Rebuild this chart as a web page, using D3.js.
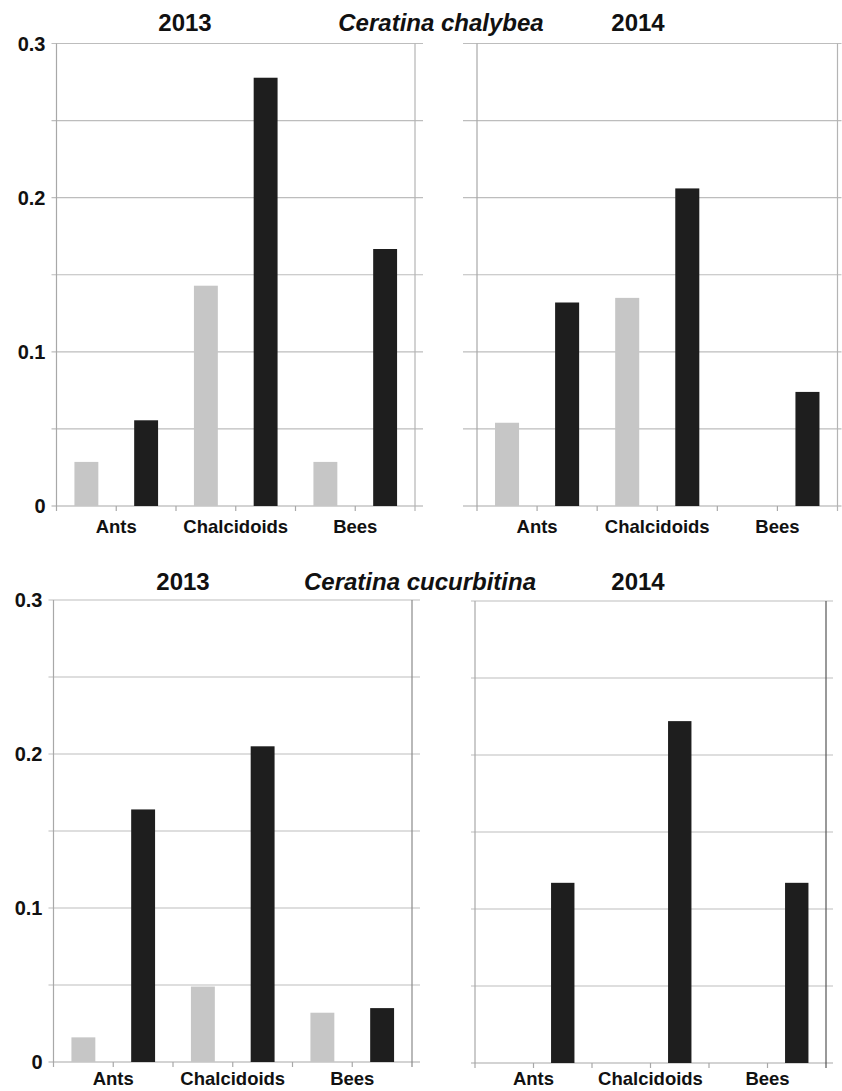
<!DOCTYPE html>
<html>
<head>
<meta charset="utf-8">
<script src="https://cdn.jsdelivr.net/npm/d3@7/dist/d3.min.js"></script>
<style>
  html, body { margin: 0; padding: 0; background: #fff; }
  svg { display: block; font-family: "Liberation Sans", Arial, sans-serif; }
</style>
</head>
<body>
<svg id="chart" width="842" height="1091"></svg>
<script>
// Enemy groups along the x axis
const groups = ["Ants", "Chalcidoids", "Bees"];

// Proportions per group: light bar, then dark bar
const chalybea2013Light = [0.0286, 0.1429, 0.0286];
const chalybea2013Dark  = [0.0556, 0.2778, 0.1667];
const chalybea2014Light = [0.054, 0.135, 0];
const chalybea2014Dark  = [0.132, 0.206, 0.074];
const cucurbitina2013Light = [0.016, 0.049, 0.032];
const cucurbitina2013Dark  = [0.164, 0.205, 0.035];
const cucurbitina2014Light = [0, 0, 0];
const cucurbitina2014Dark  = [0.117, 0.222, 0.117];

// Axis settings
const yMax = 0.3;
const yTickLabels = [0, 0.1, 0.2, 0.3];
const gridSteps = [0, 0.05, 0.1, 0.15, 0.2, 0.25, 0.3];

const LIGHT = "#c6c6c6";
const DARK = "#1e1e1e";

const svg = d3.select("#chart");

const panels = [
  { x0: 56.5, x1: 415, y0: 506, y1: 43.5, light: chalybea2013Light, dark: chalybea2013Dark,
    labels: true, tickLeft: 5, gridRight: 8, rightColor: "#b4b4b4", labelDrop: 27 },
  { x0: 477, x1: 837.5, y0: 506, y1: 43.5, light: chalybea2014Light, dark: chalybea2014Dark,
    labels: false, tickLeft: 14, gridRight: 4, rightColor: "#b4b4b4", labelDrop: 27 },
  { x0: 53.5, x1: 412, y0: 1062, y1: 600, light: cucurbitina2013Light, dark: cucurbitina2013Dark,
    labels: true, tickLeft: 5, gridRight: 8, rightColor: "#8a8a8a", labelDrop: 23 },
  { x0: 475, x1: 826, y0: 1063, y1: 601, light: cucurbitina2014Light, dark: cucurbitina2014Dark,
    labels: false, tickLeft: 4, gridRight: 7, rightColor: "#555", labelDrop: 22 }
];

panels.forEach(p => {
  const g = svg.append("g");

  // six slots: light/dark bar for each group
  const slots = [];
  groups.forEach(name => { slots.push(name + "|light"); slots.push(name + "|dark"); });

  const x = d3.scaleBand().domain(slots).range([p.x0, p.x1])
    .paddingInner(0.6).paddingOuter(0.3);
  const y = d3.scaleLinear().domain([0, yMax]).range([p.y0, p.y1]);

  // horizontal gridlines every 0.05
  g.selectAll("line.grid").data(gridSteps).enter().append("line")
    .attr("x1", p.x0 - p.tickLeft).attr("x2", p.x1 + p.gridRight)
    .attr("y1", d => y(d)).attr("y2", d => y(d))
    .attr("stroke", d => d === 0 ? "#a8a8a8" : "#bdbdbd")
    .attr("stroke-width", 1.2);

  // left axis line and right frame line
  g.append("line").attr("x1", p.x0).attr("x2", p.x0)
    .attr("y1", y(yMax)).attr("y2", y(0) + 5)
    .attr("stroke", "#a8a8a8").attr("stroke-width", 1.2);
  g.append("line").attr("x1", p.x1).attr("x2", p.x1)
    .attr("y1", y(yMax)).attr("y2", y(0) + 5)
    .attr("stroke", p.rightColor).attr("stroke-width", 1.2);

  // category ticks between slots
  const step = x.step();
  const tickPos = d3.range(1, slots.length).map(i => p.x0 + i * step);
  g.selectAll("line.xt").data(tickPos).enter().append("line")
    .attr("x1", d => d).attr("x2", d => d)
    .attr("y1", y(0)).attr("y2", y(0) + 5)
    .attr("stroke", "#a8a8a8").attr("stroke-width", 1.2);

  // bars
  const barData = [];
  groups.forEach((name, i) => {
    barData.push({ key: name + "|light", v: p.light[i], c: LIGHT });
    barData.push({ key: name + "|dark", v: p.dark[i], c: DARK });
  });
  g.selectAll("rect.bar").data(barData.filter(d => d.v > 0)).enter().append("rect")
    .attr("x", d => x(d.key))
    .attr("width", x.bandwidth())
    .attr("y", d => y(d.v))
    .attr("height", d => y(0) - y(d.v))
    .attr("fill", d => d.c);

  // group labels centred under each pair
  g.selectAll("text.cat").data(groups).enter().append("text")
    .attr("x", d => (x(d + "|light") + x(d + "|dark") + x.bandwidth()) / 2)
    .attr("y", y(0) + p.labelDrop)
    .attr("text-anchor", "middle")
    .attr("font-size", 18.5).attr("font-weight", "bold")
    .attr("fill", "#111")
    .text(d => d);

  // y tick labels
  if (p.labels) {
    g.selectAll("text.yl").data(yTickLabels).enter().append("text")
      .attr("x", p.x0 - 11)
      .attr("y", d => y(d))
      .attr("dy", "0.36em")
      .attr("text-anchor", "end")
      .attr("font-size", 20).attr("font-weight", "bold")
      .attr("fill", "#111")
      .text(d => d === 0 ? "0" : d3.format(".1f")(d));
  }
});

// headings
const headings = [
  { t: "2013", x: 185, y: 31, italic: false },
  { t: "Ceratina chalybea", x: 441, y: 31, italic: true },
  { t: "2014", x: 638, y: 31, italic: false },
  { t: "2013", x: 183, y: 590, italic: false },
  { t: "Ceratina cucurbitina", x: 420, y: 590, italic: true },
  { t: "2014", x: 638, y: 590, italic: false }
];
svg.selectAll("text.head").data(headings).enter().append("text")
  .attr("x", d => d.x).attr("y", d => d.y)
  .attr("text-anchor", "middle")
  .attr("font-size", 24).attr("font-weight", "bold")
  .attr("font-style", d => d.italic ? "italic" : "normal")
  .attr("fill", "#111")
  .text(d => d.t);
</script>
</body>
</html>
